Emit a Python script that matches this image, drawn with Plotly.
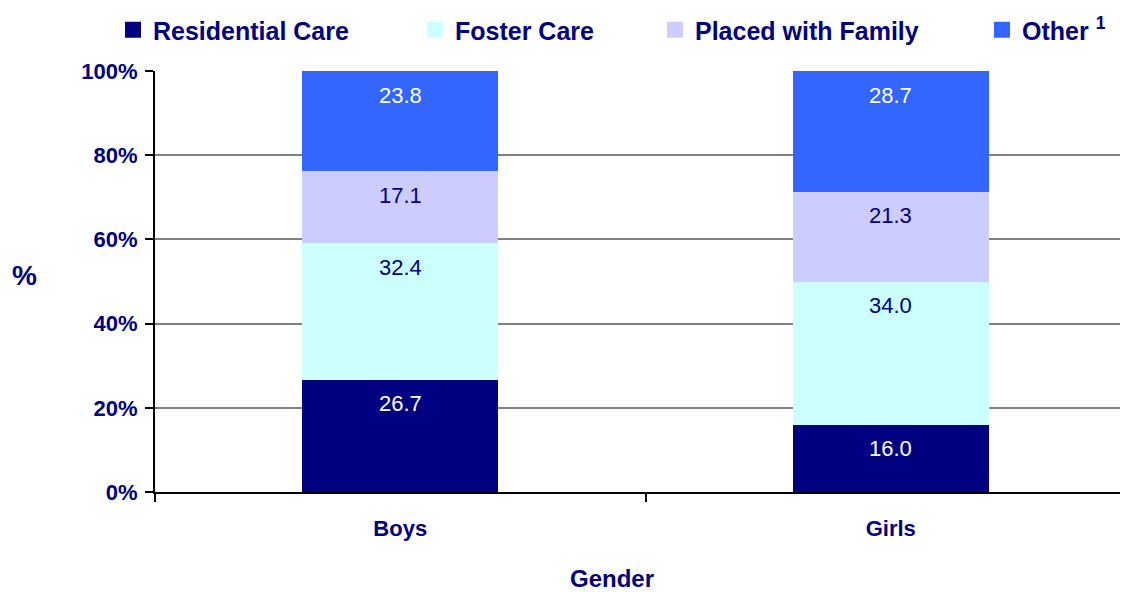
import plotly.graph_objects as go

categories = ["Boys", "Girls"]
series_names = ["Residential Care", "Foster Care", "Placed with Family", "Other"]
residential = [26.7, 16.0]
foster = [32.4, 34.0]
placed = [17.1, 21.3]
other = [23.8, 28.7]
y_ticks = [0, 20, 40, 60, 80, 100]
y_ticktext = ["0%", "20%", "40%", "60%", "80%", "100%"]

series_values = [residential, foster, placed, other]
colors = ["#000080", "#CCFFFF", "#CCCCFF", "#3366FF"]
label_colors = ["#FFFFFF", "#000080", "#000080", "#FFFFFF"]
legend_names = ["Residential Care", "Foster Care", "Placed with Family", "Other <sup>1</sup>"]
legend_ids = ["legend", "legend2", "legend3", "legend4"]
# page has an 8px body margin; positions below are in figure pixels
legend_text_x = [145, 447, 687, 1014]

NAVY = "#000080"
FONT = "Liberation Sans, Arial, sans-serif"
W, H = 1128, 592
ML, MT, MB = 147, 63, 108
PW = W - ML
PH = H - MT - MB

fig = go.Figure()
for i, (name, vals) in enumerate(zip(series_names, series_values)):
    fig.add_trace(go.Bar(
        x=categories, y=vals, name=name, marker=dict(color=colors[i], line=dict(width=0)),
        width=0.4, showlegend=False, hoverinfo="skip"))
    fig.add_trace(go.Scatter(
        x=[None], y=[None], mode="markers", name=legend_names[i],
        marker=dict(symbol="square", size=16, color=colors[i]),
        legend=legend_ids[i], showlegend=True))

for ci, cat in enumerate(categories):
    cum = 0
    for si, vals in enumerate(series_values):
        cum += vals[ci]
        fig.add_annotation(
            x=cat, y=cum, xref="x", yref="y", text=f"{vals[ci]:.1f}",
            showarrow=False, yanchor="middle", yshift=-24,
            font=dict(family=FONT, size=22, color=label_colors[si]))

# y axis title "%" (horizontal)
fig.add_annotation(
    x=(16 - ML) / PW, y=0.515, xref="paper", yref="paper", text="<b>%</b>",
    showarrow=False, xanchor="center", yanchor="middle",
    font=dict(family=FONT, size=28, color=NAVY))
# x axis title
fig.add_annotation(
    x=(604 - ML) / PW, y=-86 / PH, xref="paper", yref="paper", text="<b>Gender</b>",
    showarrow=False, xanchor="center", yanchor="middle",
    font=dict(family=FONT, size=24, color=NAVY))

legend_common = dict(
    orientation="h", xref="container", yref="container", yanchor="middle",
    xanchor="left", y=1 - 22 / H, bgcolor="rgba(0,0,0,0)", borderwidth=0,
    font=dict(family=FONT, size=25, color=NAVY, weight="bold"))
legend_layouts = {}
for lid, tx in zip(legend_ids, legend_text_x):
    legend_layouts[lid] = dict(legend_common, x=(tx - 40) / W)

fig.update_layout(
    width=W, height=H, barmode="stack", bargap=0,
    plot_bgcolor="white", paper_bgcolor="white",
    margin=dict(l=ML, r=0, t=MT, b=MB),
    font=dict(family=FONT, color=NAVY),
    **legend_layouts,
)
fig.update_xaxes(
    type="category", range=[-0.5, 1.5], showgrid=False,
    showline=True, linecolor="black", linewidth=2,
    ticks="outside", tickson="boundaries", ticklen=8, tickwidth=2, tickcolor="black",
    tickfont=dict(family=FONT, size=22, color=NAVY, weight="bold"),
    ticklabelstandoff=16,
)
fig.update_yaxes(
    range=[0, 100], tickvals=y_ticks, ticktext=y_ticktext,
    showgrid=True, gridcolor="#808080", gridwidth=2, zeroline=False,
    showline=True, linecolor="black", linewidth=2,
    ticks="outside", ticklen=8, tickwidth=2, tickcolor="black",
    tickfont=dict(family=FONT, size=22, color=NAVY, weight="bold"),
    ticklabelstandoff=3,
)

fig.write_html("out.html")
